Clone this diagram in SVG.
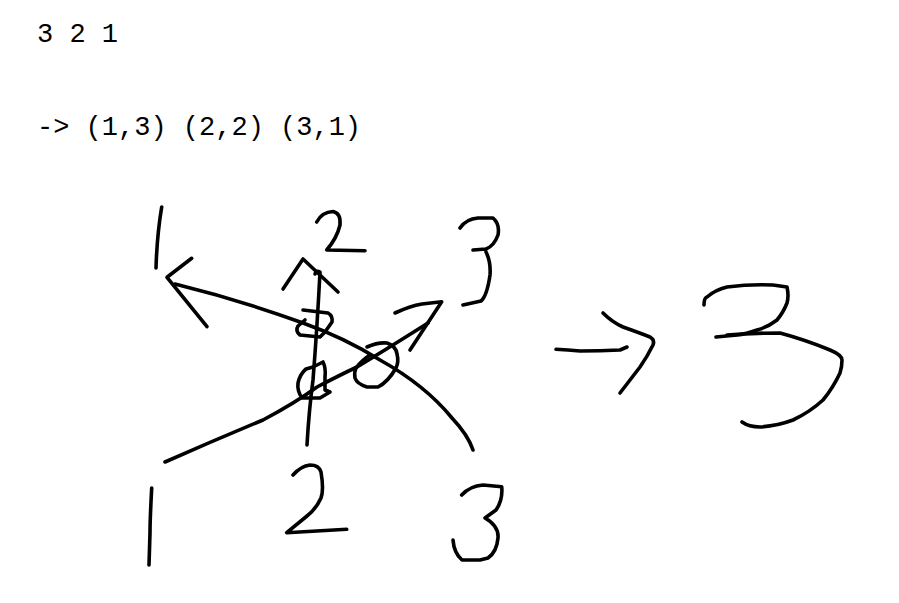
<svg xmlns="http://www.w3.org/2000/svg" width="899" height="603" viewBox="0 0 899 603">
<style>
.t{font-family:"Liberation Mono","DejaVu Sans Mono",monospace;font-size:27px;fill:#000}
.s{fill:none;stroke:#000;stroke-width:3.6;stroke-linecap:round;stroke-linejoin:round}
</style>
<rect width="899" height="603" fill="#fff"/>
<g id="text">
<text class="t" x="37" y="42" xml:space="preserve">3 2 1</text>
<text class="t" x="37" y="135" xml:space="preserve">-&gt; (1,3) (2,2) (3,1)</text>
</g>
<g id="digits-top">
<path class="s" d="M161.7,207 Q157,235 156,268"/>
<path class="s" d="M316.7,222 Q322,212 333,211.5 Q341,213 340,225 Q337,238 326.7,250 L365,250.7"/>
<path class="s" d="M460,228 Q466,219 478,218 L493,218 Q500,224 498,235 Q494,246 486,249 L473,250 M486,252 Q491,262 490,275 Q487,296 481,301 L463,305"/>
</g>
<g id="digits-bottom">
<path class="s" d="M151.7,488 Q150,520 150,533 L149,565"/>
<path class="s" d="M293,475 Q301,466 310,465 Q319,465 321,472 Q324,490 321,498 Q316,509 307,516 L286.7,532.7 L346.7,529.3"/>
<path class="s" d="M461.7,495 Q470,486 483,485 L501.7,486.7 Q503,500 496,510 L485,518 Q499,526 498,538 Q496.7,552 488,558 L480,560 L462,560 Q454,553 453,540"/>
</g>
<g id="connectors">
<path class="s" d="M191.7,258.3 L167,277.3 L207,326.7"/>
<path class="s" d="M175,284 Q240,300 303,323 Q345,338 380,360 Q425,385 452,418 Q468,435 473,450"/>
<path class="s" d="M283,289 L303,259 L338,292"/>
<path class="s" d="M307,445 Q309,410 313,380 Q317,330 320,272 Q316,270 315,274"/>
<path class="s" d="M165,462 Q215,440 263,420 Q295,403 317,387 Q340,375 357,367 Q395,344 428,323"/>
<path class="s" d="M395,313 Q410,306 422,304 L441.7,301.7 L410,350"/>
<path class="s" d="M303,310 L328,313 Q333,316 332,322 L325,332 L320,337 L300,335 Q295,331 298,326 L305,320"/>
<path class="s" d="M313,367 L323,362 Q326,368 325,377 L325,390 L330,392 L320,398 L302,398 Q297,391 298,383 Q300,374 306,369 Z"/>
<path class="s" d="M367,347 Q378,342 387,343 Q396,346 397,354 Q399,362 396,368 Q388,382 378,387 L367,387 Q357,384 355,378 Q354,372 356,368 Q362,360 370,355"/>
</g>
<g id="result">
<path class="s" d="M556,349.3 Q568,350 580,351 Q600,351 620,350 L627,347"/>
<path class="s" d="M603,313 Q612,322 623,327 Q640,333 650,337 Q655,340 653,345 Q647,357 640,367 Q630,380 620,393"/>
<path class="s" d="M704,305 Q704,298 707,297 Q715,290 727,287 Q750,284 773,285 L787,287 Q789,296 787,303 Q783,313 777,320 Q768,327 757,330 Q746,334 737,335 L716,337"/>
<path class="s" d="M727,335 Q752,333 780,333 Q806,340 830,350 Q842,355 842,360 Q842,367 840,373 Q833,388 823,400 Q810,412 793,420 Q777,426 760,427 Q749,427 742,422"/>
</g>
</svg>
